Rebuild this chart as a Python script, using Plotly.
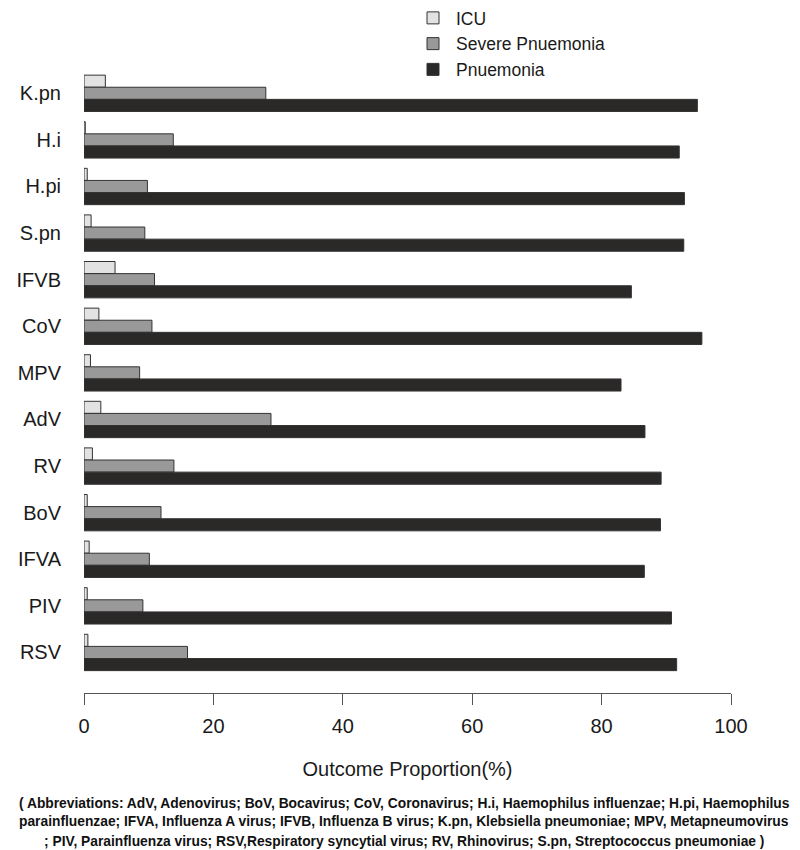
import plotly.graph_objects as go

categories = ["K.pn", "H.i", "H.pi", "S.pn", "IFVB", "CoV", "MPV", "AdV", "RV", "BoV", "IFVA", "PIV", "RSV"]
icu = [3.3, 0.2, 0.5, 1.1, 4.8, 2.3, 1.0, 2.6, 1.3, 0.5, 0.8, 0.5, 0.6]
severe = [28.1, 13.8, 9.8, 9.4, 10.9, 10.5, 8.6, 28.9, 13.9, 11.9, 10.1, 9.1, 16.0]
pneumonia = [94.8, 92.0, 92.8, 92.7, 84.6, 95.5, 83.0, 86.7, 89.2, 89.1, 86.6, 90.8, 91.6]
x_ticks = [0, 20, 40, 60, 80, 100]

footnote = [
    "( Abbreviations: AdV, Adenovirus; BoV, Bocavirus; CoV, Coronavirus; H.i, Haemophilus influenzae; H.pi, Haemophilus",
    "parainfluenzae; IFVA, Influenza A virus; IFVB, Influenza B virus; K.pn, Klebsiella pneumoniae; MPV, Metapneumovirus",
    "; PIV, Parainfluenza virus; RSV,Respiratory syncytial virus; RV, Rhinovirus; S.pn, Streptococcus pneumoniae )",
]

OFF = 8  # page offset of the figure in the browser
W, H = 800 - OFF, 850 - OFF
ML, MR, MT = 84 - OFF, 69, 70 - OFF
MB = H - (693 - OFF)
PW, PH = W - ML - MR, H - MT - MB

fig = go.Figure()
series = [
    ("ICU", icu, "#e2e2e2"),
    ("Severe Pnuemonia", severe, "#999999"),
    ("Pnuemonia", pneumonia, "#2b2828"),
]
for name, vals, col in series:
    fig.add_trace(go.Bar(
        y=categories, x=vals, name=name, orientation="h",
        marker=dict(color=col, line=dict(color="#333333", width=1)),
    ))

fig.update_layout(
    width=W, height=H,
    barmode="group", bargap=0.22, bargroupgap=0,
    plot_bgcolor="white", paper_bgcolor="white",
    margin=dict(l=ML, r=MR, t=MT, b=MB, autoexpand=False),
    font=dict(family="Liberation Sans, Arial, sans-serif", color="#1a1a1a"),
    legend=dict(
        xref="container", yref="paper", x=(410 - OFF) / W, y=1 + (MT + 8) / PH,
        xanchor="left", yanchor="top",
        font=dict(size=17.5), tracegroupgap=0, itemwidth=36,
        bgcolor="rgba(0,0,0,0)",
    ),
    xaxis=dict(
        range=[0, 100], tickvals=x_ticks, showgrid=False, zeroline=False,
        showline=True, linecolor="#555555", linewidth=1.2,
        ticks="outside", ticklen=11, tickcolor="#555555", tickwidth=1.2,
        tickfont=dict(size=20), ticklabelstandoff=4,
        title=dict(text="Outcome Proportion(%)", font=dict(size=20), standoff=25),
        automargin=False,
    ),
    yaxis=dict(
        categoryorder="array", categoryarray=categories,
        range=[12.87, -0.5], showgrid=False, zeroline=False, showline=False,
        ticks="", tickfont=dict(size=20), ticklabelstandoff=22, automargin=False,
    ),
)

for i, line in enumerate(footnote):
    py = 803 + 19 * i - OFF
    fig.add_annotation(
        text="<b>" + line + "</b>", xref="paper", yref="paper",
        x=(404 - OFF - ML) / PW, y=(H - MB - py) / PH, xanchor="center", yanchor="middle",
        showarrow=False, font=dict(family="Liberation Sans Narrow, Arial Narrow, sans-serif", size=13.8, color="#111111"),
    )

fig.write_html("out.html")
